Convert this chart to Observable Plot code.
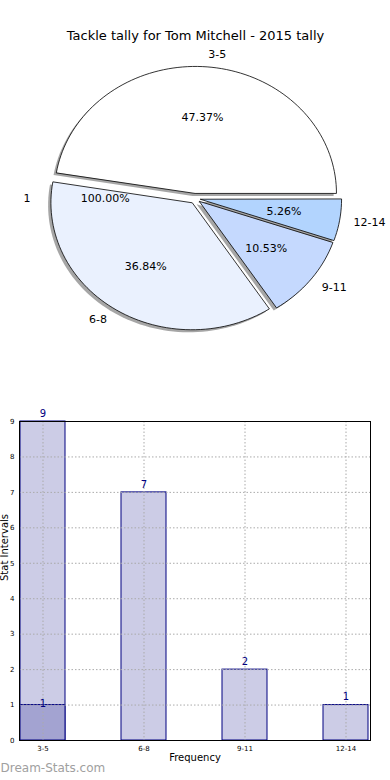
<!DOCTYPE html>
<html><head><meta charset="utf-8">
<script src="https://cdn.jsdelivr.net/npm/d3@7"></script>
<script src="https://cdn.jsdelivr.net/npm/@observablehq/plot@0.6"></script>
<style>
body{margin:0;background:#fff;font-family:"DejaVu Sans",sans-serif}
#chart{width:390px;height:780px;overflow:hidden}
#chart svg{display:block}
</style>
</head><body><div id="chart"></div>
<script>
// ---- data ----
const title = "Tackle tally for Tom Mitchell - 2015 tally";
const categories = ["3-5", "6-8", "9-11", "12-14"];
const counts = [9, 7, 2, 1];
const sliceColors = ["#ffffff", "#eaf1fe", "#c5d9fe", "#b2d4fe"];
const extraCategories = ["1"];
const extraCounts = [1];
const overlayCategory = ["3-5"];
const overlayCounts = [1];
const yTicks = [0, 1, 2, 3, 4, 5, 6, 7, 8, 9];
const xLabel = "Frequency";
const yLabel = "Stat Intervals";
const watermark = "Dream-Stats.com";

// ---- pie geometry (data units, unit radius) ----
const explode = 0.04;
const total = d3.sum(counts);
const fmtPct = v => (v * 100).toFixed(2) + "%";
let cum = 0;
const slices = categories.map((c, i) => {
  const a0 = cum / total * 2 * Math.PI;
  cum += counts[i];
  const a1 = cum / total * 2 * Math.PI;
  const mid = (a0 + a1) / 2;
  const ox = explode * Math.cos(mid), oy = explode * Math.sin(mid);
  return {cat: c, i, a0, a1, mid, ox, oy, color: sliceColors[i],
    lx: ox + 1.1 * Math.cos(mid), ly: oy + 1.1 * Math.sin(mid),
    px: ox + 0.6 * Math.cos(mid), py: oy + 0.6 * Math.sin(mid),
    pct: fmtPct(counts[i] / total)};
});
function wedgePoints(s, sx, sy) {
  const pts = [{x: s.ox + sx, y: s.oy + sy, cat: s.cat}];
  const n = Math.max(8, Math.ceil((s.a1 - s.a0) / (Math.PI / 90)));
  for (let k = 0; k <= n; k++) {
    const a = s.a0 + (s.a1 - s.a0) * k / n;
    pts.push({x: s.ox + sx + Math.cos(a), y: s.oy + sy + Math.sin(a), cat: s.cat});
  }
  return pts;
}
const wedgePts = slices.flatMap(s => wedgePoints(s, 0, 0));
const shadowPts = slices.flatMap(s => wedgePoints(s, -0.02, -0.02));
// second (phantom) series labels
const extraTotal = d3.sum(extraCounts);
const extraR = 1.06;
const extraLabels = extraCategories.map((c, i) => ({
  cat: c, lx: -1.1 * extraR, ly: 0, px: -0.6 * extraR, py: 0,
  pct: fmtPct(extraCounts[i] / extraTotal)}));

const colorScale = {domain: categories, range: sliceColors};

const pie = Plot.plot({
  width: 390, height: 390, margin: 0,
  style: {fontFamily: "DejaVu Sans, sans-serif", background: "white", overflow: "visible"},
  x: {domain: [-1, 1], range: [194.5 - 141, 194.5 + 141], axis: null},
  y: {domain: [-1, 1], range: [198 + 127, 198 - 127], axis: null},
  color: colorScale,
  marks: [
    Plot.line(shadowPts, {x: "x", y: "y", z: "cat", curve: "linear-closed", fill: "#4d4d4d", fillOpacity: 0.5, stroke: "none"}),
    Plot.line(wedgePts, {x: "x", y: "y", z: "cat", curve: "linear-closed", fill: "cat", stroke: "black", strokeWidth: 0.8}),
    Plot.text(slices.filter(d => d.lx >= 0), {x: "lx", y: "ly", text: "cat", textAnchor: "start", fontSize: 11, fill: "black"}),
    Plot.text(slices.filter(d => d.lx < 0), {x: "lx", y: "ly", text: "cat", textAnchor: "end", fontSize: 11, fill: "black"}),
    Plot.text(slices, {x: "px", y: "py", text: "pct", fontSize: 11, fill: "black"}),
    Plot.text(extraLabels, {x: "lx", y: "ly", text: "cat", textAnchor: "end", fontSize: 11, fill: "black"}),
    Plot.text(extraLabels, {x: "px", y: "py", text: "pct", fontSize: 11, fill: "black"}),
    Plot.text([title], {frameAnchor: "top", dy: 30, fontSize: 13, fill: "black"})
  ]
});

// ---- bar chart ----
const barData = categories.map((c, i) => ({cat: c, count: counts[i]}));
const overlayData = overlayCategory.map((c, i) => ({cat: c, count: overlayCounts[i]}));
const navy = "#000080";
const bars = Plot.plot({
  width: 390, height: 390,
  marginLeft: 19, marginRight: 20, marginTop: 31, marginBottom: 40,
  style: {fontFamily: "DejaVu Sans, sans-serif", background: "white", overflow: "visible"},
  x: {domain: categories, paddingInner: 0.55, paddingOuter: 0, label: null},
  y: {domain: [0, 9], label: null},
  marks: [
    Plot.barY(barData, {x: "cat", y: "count", fill: "#ccccE6", stroke: navy, strokeWidth: 1}),
    Plot.barY(overlayData, {x: "cat", y: "count", fill: "#a3a3d1", stroke: navy, strokeWidth: 1}),
    Plot.gridX({stroke: "#aaaaaa", strokeOpacity: 1, strokeDasharray: "1.5,2"}),
    Plot.gridY(yTicks, {stroke: "#aaaaaa", strokeOpacity: 1, strokeDasharray: "1.5,2"}),
    Plot.frame({stroke: "black"}),
    Plot.axisY(yTicks, {tickSize: 0, tickPadding: 5, fontSize: 7, label: null, fill: "black"}),
    Plot.axisX({tickSize: 0, tickPadding: 6, fontSize: 7, label: null, fill: "black"}),
    Plot.text(barData, {x: "cat", y: "count", text: d => String(d.count), dy: -8, fill: navy, fontSize: 10}),
    Plot.text(overlayData, {x: "cat", y: "count", text: d => String(d.count), dy: -1, fill: navy, fontSize: 10}),
    Plot.text([xLabel], {frameAnchor: "bottom", dy: 20, fontSize: 10, fill: "black"}),
    Plot.text([yLabel], {frameAnchor: "left", dx: -15, rotate: -90, fontSize: 10, fill: "black"}),
    Plot.text([watermark], {frameAnchor: "bottom-left", dx: -19, dy: 31, textAnchor: "start", fontSize: 12, fill: "#a0a0a0"})
  ]
});

const root = document.getElementById("chart");
root.appendChild(pie);
root.appendChild(bars);
</script>
</body></html>
